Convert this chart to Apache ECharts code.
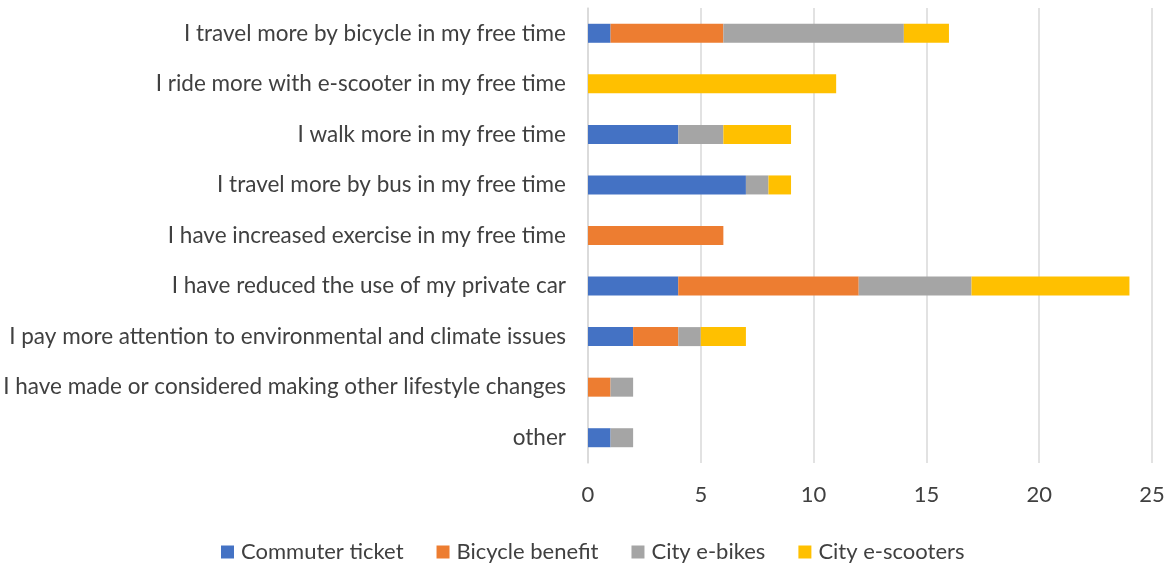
<!DOCTYPE html>
<html><head><meta charset="utf-8">
<script src="https://cdn.jsdelivr.net/npm/echarts@6/dist/echarts.min.js"></script>
<style>html,body{margin:0;padding:0;background:#fff}#c{width:1170px;height:563px}</style>
</head><body><div id="c"></div>
<script>
const categories = [
  "I travel more by bicycle in my free time",
  "I ride more with e-scooter in my free time",
  "I walk more in my free time",
  "I travel more by bus in my free time",
  "I have increased exercise in my free time",
  "I have reduced the use of my private car",
  "I pay more attention to environmental and climate issues",
  "I have made or considered making other lifestyle changes",
  "other"
];
const commuterTicket = [1, 0, 4, 7, 0, 4, 2, 0, 1];
const bicycleBenefit = [5, 0, 0, 0, 6, 8, 2, 1, 0];
const cityEbikes     = [8, 0, 2, 1, 0, 5, 1, 1, 1];
const cityEscooters  = [2, 11, 3, 1, 0, 7, 2, 0, 0];
const seriesNames = ["Commuter ticket", "Bicycle benefit", "City e-bikes", "City e-scooters"];
const colors = ["#4472C4", "#ED7D31", "#A5A5A5", "#FFC000"];
const xTicks = [0, 5, 10, 15, 20, 25];

const font = "Lato, 'Open Sans', sans-serif";
const chart = echarts.init(document.getElementById('c'), null, {renderer: 'canvas'});
const datas = [commuterTicket, bicycleBenefit, cityEbikes, cityEscooters];
chart.setOption({
  animation: false,
  textStyle: {fontFamily: font},
  grid: {left: 588, right: 18, top: 8, bottom: 100, containLabel: false},
  legend: {
    top: 536, left: 216, itemWidth: 13, itemHeight: 13, itemGap: 33,
    icon: 'rect',
    textStyle: {fontSize: 22, color: '#404040', fontFamily: font, padding: [0, 0, 0, 2]},
    data: seriesNames
  },
  xAxis: {
    type: 'value', min: xTicks[0], max: xTicks[xTicks.length - 1], interval: 5,
    axisLine: {show: false}, axisTick: {show: false},
    axisLabel: {fontSize: 22, color: '#404040', margin: 21, fontFamily: font},
    splitLine: {lineStyle: {color: '#D9D9D9', width: 1.5}}
  },
  yAxis: {
    type: 'category', inverse: true, data: categories,
    axisLine: {show: true, lineStyle: {color: '#D9D9D9', width: 1.5}},
    axisTick: {show: false},
    axisLabel: {fontSize: 22.5, color: '#404040', margin: 22, fontFamily: font}
  },
  series: seriesNames.map((n, i) => ({
    name: n, type: 'bar', stack: 'total', data: datas[i],
    barWidth: 19,
    itemStyle: {color: colors[i]}
  }))
});
</script>
</body></html>
